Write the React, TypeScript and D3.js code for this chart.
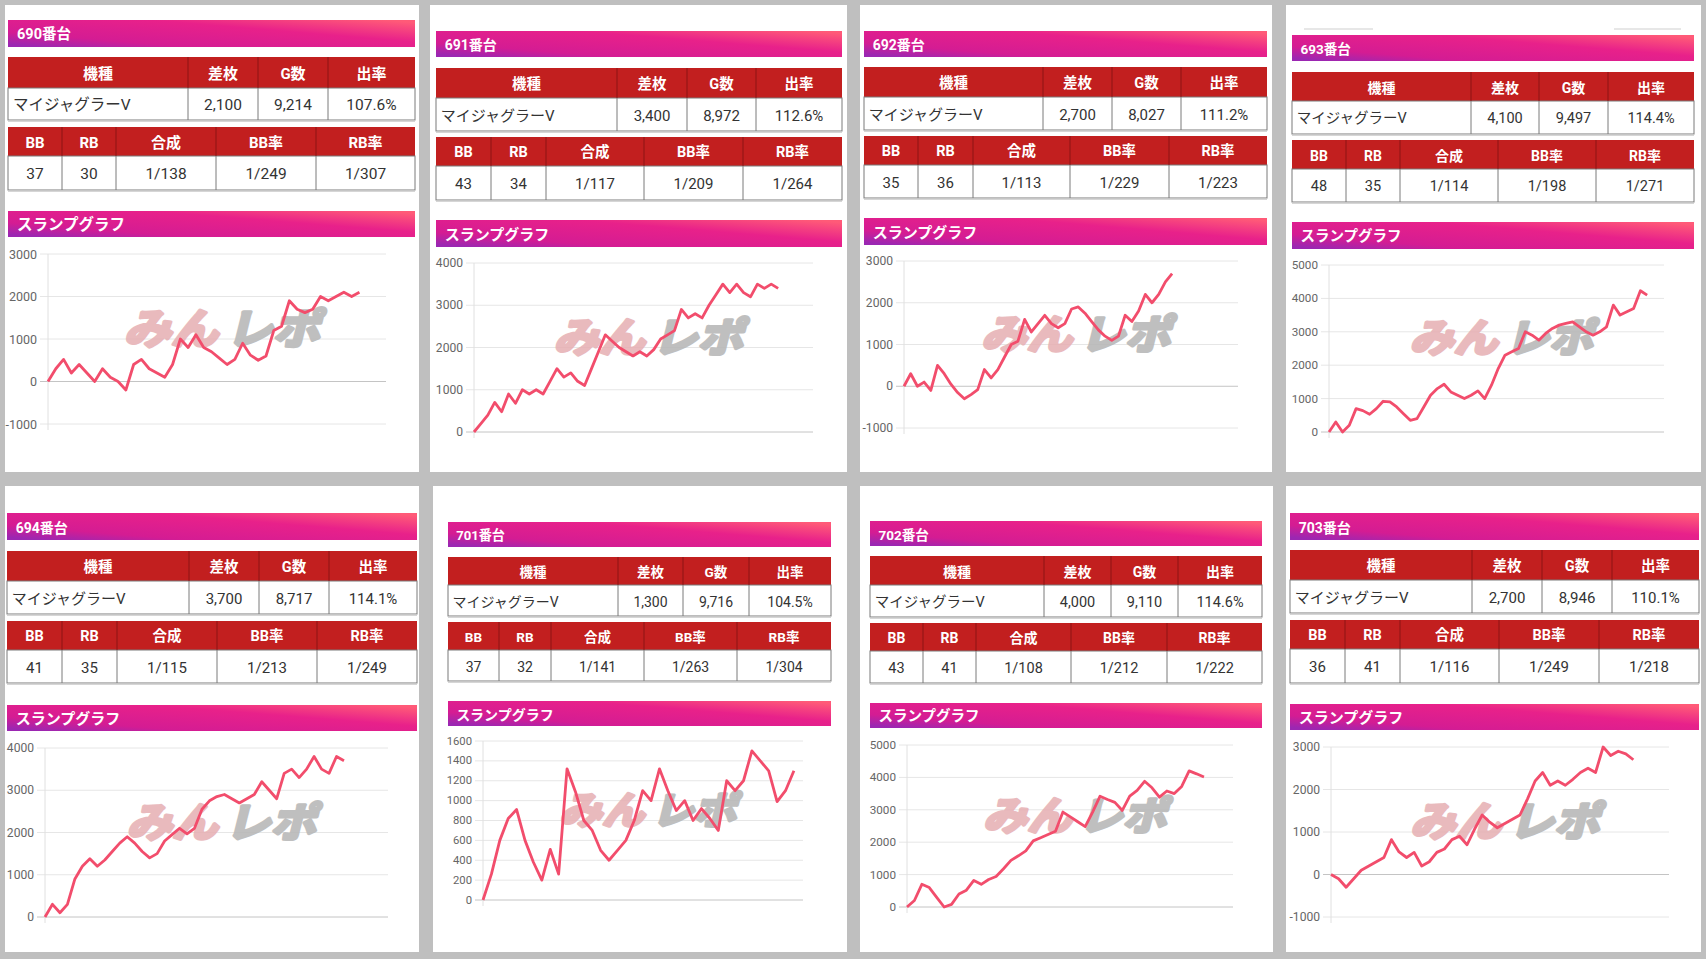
import * as d3 from "d3";

// ---- data ----
const unitNames = ["690番台", "691番台", "692番台", "693番台", "694番台", "701番台", "702番台", "703番台"];
const machineNames = ["マイジャグラーV", "マイジャグラーV", "マイジャグラーV", "マイジャグラーV", "マイジャグラーV", "マイジャグラーV", "マイジャグラーV", "マイジャグラーV"];
const diffCoins = ["2,100", "3,400", "2,700", "4,100", "3,700", "1,300", "4,000", "2,700"];
const gameCounts = [9214, 8972, 8027, 9497, 8717, 9716, 9110, 8946];
const payoutRates = ["107.6%", "112.6%", "111.2%", "114.4%", "114.1%", "104.5%", "114.6%", "110.1%"];
const bbCounts = [37, 43, 35, 48, 41, 37, 43, 36];
const rbCounts = [30, 34, 36, 35, 35, 32, 41, 41];
const combinedRates = ["1/138", "1/117", "1/113", "1/114", "1/115", "1/141", "1/108", "1/116"];
const bbRates = ["1/249", "1/209", "1/229", "1/198", "1/213", "1/263", "1/212", "1/249"];
const rbRates = ["1/307", "1/264", "1/223", "1/271", "1/249", "1/304", "1/222", "1/218"];

const table1Heads = ["機種", "差枚", "G数", "出率"];
const table2Heads = ["BB", "RB", "合成", "BB率", "RB率"];

const yTicks = [
  [-1000, 0, 1000, 2000, 3000],
  [0, 1000, 2000, 3000, 4000],
  [-1000, 0, 1000, 2000, 3000],
  [0, 1000, 2000, 3000, 4000, 5000],
  [0, 1000, 2000, 3000, 4000],
  [0, 200, 400, 600, 800, 1000, 1200, 1400, 1600],
  [0, 1000, 2000, 3000, 4000, 5000],
  [-1000, 0, 1000, 2000, 3000],
];
const gameAxisMax = 10000;

const slump690 = [0, 300, 520, 200, 400, 200, 0, 300, 100, 0, -200, 400, 520, 300, 200, 100, 400, 1000, 800, 1100, 800, 700, 550, 400, 520, 900, 620, 500, 600, 1200, 1300, 1900, 1700, 1620, 1700, 2000, 1900, 2000, 2100, 2000, 2100];
const slump691 = [0, 200, 400, 700, 480, 900, 680, 1000, 900, 1000, 900, 1200, 1500, 1300, 1400, 1200, 1100, 1500, 1900, 2300, 2150, 2000, 1900, 1800, 1900, 1800, 1950, 2200, 2300, 2400, 2900, 2700, 2800, 2700, 3000, 3250, 3500, 3300, 3500, 3300, 3200, 3500, 3400, 3500, 3400];
const slump692 = [0, 300, 0, 100, -100, 500, 300, 50, -150, -300, -200, -80, 400, 200, 400, 700, 1000, 1080, 1600, 1300, 1500, 1700, 1500, 1400, 1500, 1850, 1900, 1750, 1550, 1350, 1200, 1100, 1200, 1700, 1550, 1800, 2200, 2000, 2200, 2500, 2700];
const slump693 = [0, 300, 0, 200, 700, 640, 530, 700, 920, 900, 750, 550, 350, 400, 750, 1100, 1300, 1430, 1200, 1100, 1000, 1100, 1230, 1000, 1400, 1900, 2300, 2400, 2500, 3000, 2900, 2750, 2950, 3100, 3200, 3250, 3300, 3150, 3000, 2900, 3000, 3150, 3800, 3500, 3600, 3700, 4230, 4100];
const slump694 = [0, 300, 100, 300, 900, 1200, 1380, 1200, 1350, 1550, 1750, 1900, 1750, 1550, 1400, 1500, 1800, 1950, 2100, 1970, 2100, 2550, 2750, 2850, 2900, 2800, 2700, 2800, 2900, 3200, 3000, 2800, 3400, 3500, 3300, 3500, 3800, 3500, 3400, 3800, 3700];
const slump701 = [0, 260, 600, 820, 910, 600, 380, 200, 510, 260, 1320, 1090, 800, 700, 500, 400, 500, 600, 800, 1100, 1000, 1320, 1100, 900, 1000, 800, 920, 820, 700, 1200, 1100, 1200, 1500, 1400, 1300, 990, 1100, 1300];
const slump702 = [0, 200, 700, 600, 300, 0, 80, 400, 520, 820, 700, 850, 940, 1180, 1440, 1580, 1730, 2040, 2140, 2240, 2340, 2930, 2780, 2630, 2480, 2930, 3420, 3320, 3230, 2980, 3420, 3600, 3880, 3680, 3390, 3580, 3500, 3720, 4200, 4110, 4010];
const slump703 = [0, -100, -300, -100, 100, 200, 300, 400, 820, 530, 400, 520, 200, 300, 520, 600, 820, 900, 700, 1070, 1400, 1230, 1100, 1200, 1300, 1400, 1780, 2200, 2400, 2100, 2200, 2100, 2240, 2400, 2500, 2400, 3000, 2800, 2900, 2840, 2700];
const slumpSeries = [slump690, slump691, slump692, slump693, slump694, slump701, slump702, slump703];

// ---- layout of each card (pixels) ----
const layouts = [
  { card: [5, 5, 419, 472], bar: [8, 415], head: [20, 47], t1: [57, 88, 120], c1: [8, 188, 258, 328, 415], t2: [127, 156, 190], c2: [8, 62, 116, 216, 316, 415], gh: [211, 237], plot: [48, 386, 254, 424] },
  { card: [430, 5, 847, 472], bar: [436, 842], head: [31, 57], t1: [68, 98, 131], c1: [436, 617, 687, 756, 842], t2: [137, 166, 200], c2: [436, 491, 546, 644, 743, 842], gh: [220, 247], plot: [474, 813, 263, 432] },
  { card: [860, 5, 1272, 472], bar: [864, 1267], head: [31, 57], t1: [67, 97, 130], c1: [864, 1043, 1112, 1181, 1267], t2: [136, 165, 198], c2: [864, 918, 973, 1070, 1169, 1267], gh: [218, 245], plot: [904, 1238, 261, 428] },
  { card: [1286, 5, 1701, 472], bar: [1292, 1694], head: [35, 61], t1: [72, 101, 134], c1: [1292, 1471, 1539, 1608, 1694], t2: [140, 169, 202], c2: [1292, 1346, 1400, 1498, 1596, 1694], gh: [222, 249], plot: [1329, 1664, 265, 432] },
  { card: [5, 486, 419, 952], bar: [7, 417], head: [513, 540], t1: [551, 581, 614], c1: [7, 189, 259, 329, 417], t2: [621, 650, 683], c2: [7, 62, 117, 217, 317, 417], gh: [705, 731], plot: [45, 388, 748, 917] },
  { card: [433, 486, 847, 952], bar: [448, 831], head: [522, 547], t1: [557, 585, 616], c1: [448, 618, 683, 749, 831], t2: [622, 650, 681], c2: [448, 499, 551, 644, 737, 831], gh: [701, 726], plot: [483, 803, 741, 900] },
  { card: [860, 486, 1273, 952], bar: [870, 1262], head: [521, 546], t1: [556, 585, 617], c1: [870, 1044, 1111, 1178, 1262], t2: [623, 651, 683], c2: [870, 923, 976, 1071, 1167, 1262], gh: [703, 728], plot: [907, 1233, 745, 907] },
  { card: [1286, 486, 1701, 952], bar: [1290, 1699], head: [513, 540], t1: [550, 580, 613], c1: [1290, 1472, 1542, 1612, 1699], t2: [620, 649, 683], c2: [1290, 1345, 1400, 1499, 1599, 1699], gh: [704, 730], plot: [1331, 1669, 747, 917] },
];

const FONT = "Roboto, 'Noto Sans CJK JP', sans-serif";
const RED = "#c21f1f";
const fmt = d3.format(",");

function Table({ ys, cols, heads, cells, s, leftFirst }) {
  const [top, mid, bot] = ys;
  const x0 = cols[0];
  const x1 = cols[cols.length - 1];
  return (
    <g>
      <rect x={x0} y={top} width={x1 - x0} height={mid - top} fill={RED} />
      <rect x={x0} y={mid} width={x1 - x0} height={bot - mid} fill="#fff" stroke="#7a7a7a" strokeWidth={1} />
      <line x1={x0} x2={x1} y1={bot + 1} y2={bot + 1} stroke="#c8c8c8" strokeWidth={1.5} />
      {cols.slice(1, -1).map((c, k) => (
        <g key={k}>
          <line x1={c} x2={c} y1={top} y2={mid} stroke="#8c1414" strokeWidth={1} />
          <line x1={c} x2={c} y1={mid} y2={bot} stroke="#7a7a7a" strokeWidth={1} />
        </g>
      ))}
      {heads.map((h, k) => (
        <text key={k} x={(cols[k] + cols[k + 1]) / 2} y={(top + mid) / 2 + 1} textAnchor="middle"
          dominantBaseline="central" fill="#fff" fontWeight="bold" fontSize={15 * s} fontFamily={FONT}>{h}</text>
      ))}
      {cells.map((v, k) => (
        <text key={k} x={leftFirst && k === 0 ? cols[0] + 5 * s : (cols[k] + cols[k + 1]) / 2} y={(mid + bot) / 2 + 1}
          textAnchor={leftFirst && k === 0 ? "start" : "middle"} dominantBaseline="central" fill="#333"
          fontSize={15.5 * s} fontFamily={FONT}>{v}</text>
      ))}
    </g>
  );
}

function Card({ i }) {
  const L = layouts[i];
  const s = (L.t1[1] - L.t1[0]) / 31;
  const [pl, pr, pt, pb] = L.plot;
  const ticks = yTicks[i];
  const y = d3.scaleLinear().domain(d3.extent(ticks) as [number, number]).range([pb, pt]);
  const x = d3.scaleLinear().domain([0, gameAxisMax]).range([pl, pr]);
  const data = slumpSeries[i];
  const step = gameCounts[i] / (data.length - 1);
  const path = d3.line<number>().x((_, k) => x(k * step)).y((d) => y(d))(data);
  const wmW = 196 * s;
  const wx = (pl + pr) / 2 + 5 - wmW / 2;
  const wy = (pt + pb) / 2 - 12 + 17 * s;
  const wmFont = "'Noto Sans CJK JP', sans-serif";
  return (
    <g>
      <rect x={L.card[0]} y={L.card[1]} width={L.card[2] - L.card[0]} height={L.card[3] - L.card[1]} fill="#fff" />
      <rect x={L.bar[0]} y={L.head[0]} width={L.bar[1] - L.bar[0]} height={L.head[1] - L.head[0]} fill="url(#hdr)" />
      <text x={L.bar[0] + 9 * s} y={(L.head[0] + L.head[1]) / 2 + 1} dominantBaseline="central" fill="#fff"
        fontWeight="bold" fontSize={14.5 * s} fontFamily={FONT}>{unitNames[i]}</text>
      <Table ys={L.t1} cols={L.c1} heads={table1Heads} s={s} leftFirst
        cells={[machineNames[i], diffCoins[i], fmt(gameCounts[i]), payoutRates[i]]} />
      <Table ys={L.t2} cols={L.c2} heads={table2Heads} s={s} leftFirst={false}
        cells={[bbCounts[i], rbCounts[i], combinedRates[i], bbRates[i], rbRates[i]]} />
      <rect x={L.bar[0]} y={L.gh[0]} width={L.bar[1] - L.bar[0]} height={L.gh[1] - L.gh[0]} fill="url(#hdr)" />
      <text x={L.bar[0] + 9 * s} y={(L.gh[0] + L.gh[1]) / 2 + 1} dominantBaseline="central" fill="#fff"
        fontWeight="bold" fontSize={15.5 * s} fontFamily={FONT}>スランプグラフ</text>

      {ticks.map((t) => (
        <g key={t}>
          <line x1={pl - 8} x2={pr} y1={y(t)} y2={y(t)} stroke={t === 0 ? "#c4c4c4" : "#e6e6e6"} strokeWidth={1} />
          <text x={pl - 11} y={y(t)} textAnchor="end" dominantBaseline="central" fill="#666"
            fontSize={12.5 * s} fontFamily={FONT}>{t}</text>
        </g>
      ))}
      <line x1={pl} x2={pl} y1={pt} y2={pb + 6} stroke="#e0e0e0" strokeWidth={1} />

      <g transform={`translate(${wx},${wy}) skewX(-14)`} opacity={0.85}>
        <text x={0} y={0} fill="#e6aeb2" stroke="#e6aeb2" strokeWidth={3.5} strokeLinejoin="round"
          fontSize={42 * s} fontWeight="bold" fontFamily={wmFont}
          textLength={wmW * 0.48} lengthAdjust="spacingAndGlyphs">みん</text>
        <text x={wmW * 0.52} y={0} fill="#b5b5b5" stroke="#b5b5b5" strokeWidth={3.5} strokeLinejoin="round"
          fontSize={42 * s} fontWeight="bold" fontFamily={wmFont}
          textLength={wmW * 0.48} lengthAdjust="spacingAndGlyphs">レポ</text>
      </g>

      <path d={path} fill="none" stroke="#f24d6c" strokeWidth={2.8} strokeLinejoin="round" />
    </g>
  );
}

export default function App() {
  return (
    <svg width={1706} height={959} style={{ position: "absolute", left: 0, top: 0, display: "block" }}>
      <defs>
        <linearGradient id="hdr" x1="0" y1="0.9" x2="1" y2="0.1">
          <stop offset="0" stopColor="#9b27b2" />
          <stop offset="0.22" stopColor="#d41c93" />
          <stop offset="0.65" stopColor="#e8218a" />
          <stop offset="1" stopColor="#ff5a78" />
        </linearGradient>
      </defs>
      <rect x={0} y={0} width={1706} height={959} fill="#bfbfbf" />
      {layouts.map((_, i) => <Card key={i} i={i} />)}
      <line x1={1304} x2={1373} y1={29} y2={29} stroke="#cfcfcf" strokeWidth={1} />
      <line x1={1614} x2={1681} y1={29} y2={29} stroke="#cfcfcf" strokeWidth={1} />
    </svg>
  );
}
